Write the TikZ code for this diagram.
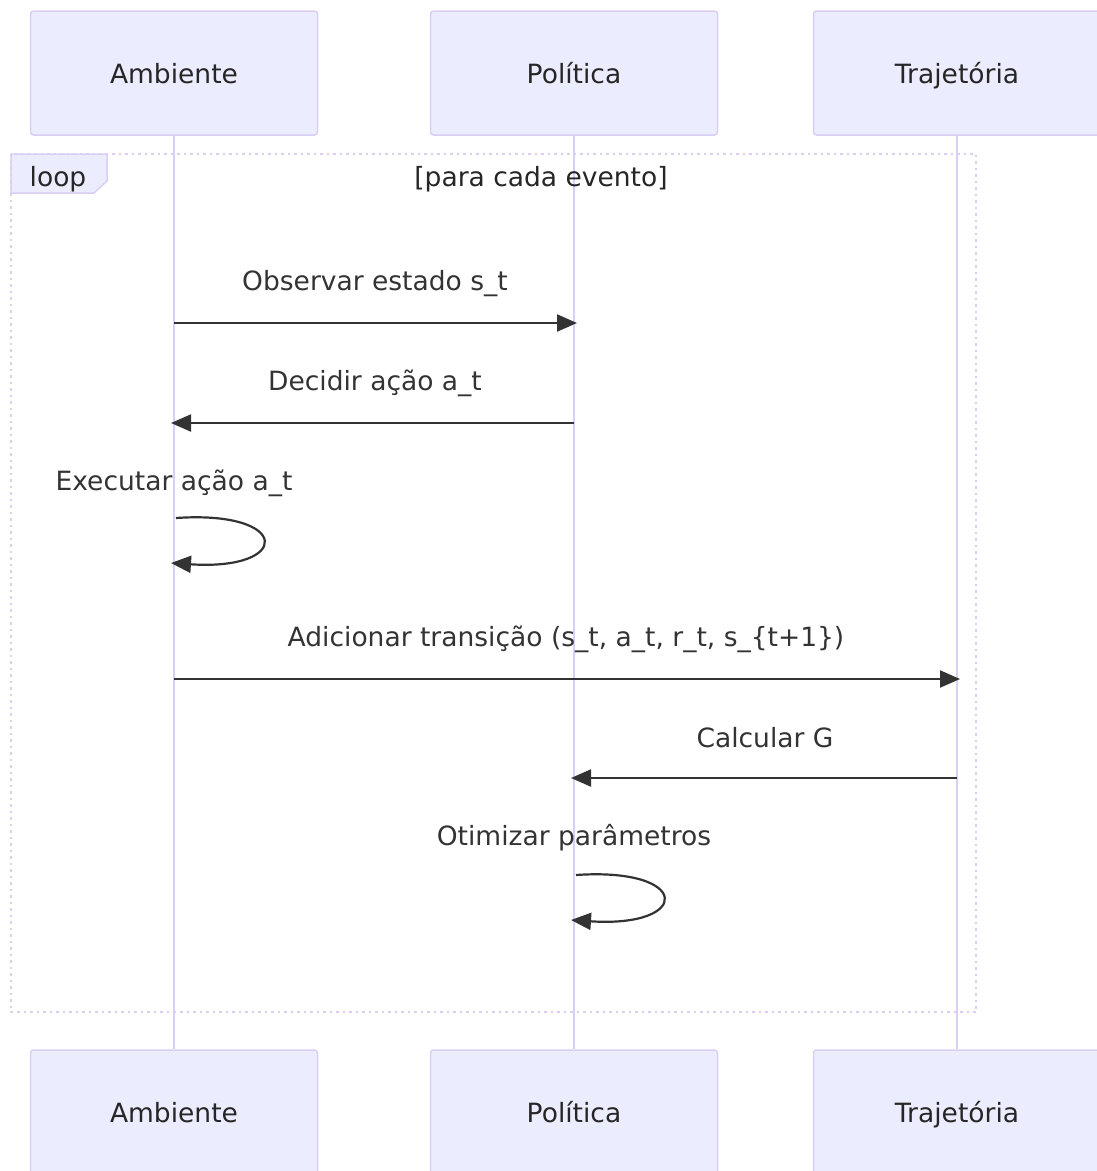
\documentclass[tikz,border=0pt]{standalone}
\usepackage{fontspec}
\setmainfont{DejaVu Sans}
\usetikzlibrary{arrows.meta}
\definecolor{actorfill}{HTML}{ECECFF}
\definecolor{actorline}{HTML}{DACEF3}
\definecolor{msgcol}{HTML}{333333}
\tikzset{
  actor/.style={draw=actorline, line width=1.5pt, fill=actorfill, rounded corners=3pt,
    minimum width=287pt, minimum height=124pt, inner sep=0pt,
    text height=20pt, text depth=0pt,
    font=\fontsize{26.5}{32}\selectfont, text=black!85},
  lifeline/.style={draw=actorline, line width=2.5pt},
  msglabel/.style={font=\fontsize{26.5}{32}\selectfont, text=msgcol, anchor=base, inner sep=0pt},
  msg/.style={draw=msgcol, line width=2.2pt, -{Triangle[length=20pt,width=17pt]}},
  loopframe/.style={draw=actorline, line width=2.5pt, dash pattern=on 2.5pt off 4pt},
}
\begin{document}
\begin{tikzpicture}[x=1pt,y=-1pt]
  \useasboundingbox (0,0) rectangle (1097,1171);
  \clip (0,0) rectangle (1097,1171);

  % actor heads and feet
  \node[actor] (ambT) at (174,73) {Ambiente};
  \node[actor] (polT) at (574,73) {Política};
  \node[actor] (traT) at (957,73) {Trajetória};
  \node[actor] (ambB) at (174,1112) {Ambiente};
  \node[actor] (polB) at (574,1112) {Política};
  \node[actor] (traB) at (957,1112) {Trajetória};

  % lifelines
  \draw[lifeline] (ambT.south) -- (ambB.north);
  \draw[lifeline] (polT.south) -- (polB.north);
  \draw[lifeline] (traT.south) -- (traB.north);

  % loop frame
  \draw[loopframe] (11,154) rectangle (976,1012);
  \filldraw[draw=actorline, fill=actorfill, line width=1.5pt]
    (11,154) -- (107,154) -- (107,181) -- (94,193) -- (11,193) -- cycle;
  \node[msglabel, text=black!85] (looplbl) at (58,186) {loop};
  \node[msglabel, text=black!85] (loopcond) at (541,186) {[para cada evento]};

  % anchor points on the lifelines
  \coordinate (a1) at (174,323);  \coordinate (p1) at (577,323);
  \coordinate (p2) at (574,423);  \coordinate (a2) at (171,423);
  \coordinate (a3) at (176,518);  \coordinate (a3e) at (171,563);
  \coordinate (a4) at (174,679);  \coordinate (t4) at (960,679);
  \coordinate (t5) at (957,778);  \coordinate (p5) at (571,778);
  \coordinate (p6) at (576,875);  \coordinate (p6e) at (571,920);

  % messages
  \node[msglabel] (m1) at (375,290) {Observar estado s\_t};
  \draw[msg] (a1) -- (p1);

  \node[msglabel] (m2) at (375,390) {Decidir ação a\_t};
  \draw[msg] (p2) -- (a2);

  \node[msglabel] (m3) at (174,490) {Executar ação a\_t};
  \draw[msg] (a3) .. controls (292,510) and (292,571) .. (a3e);

  \node[msglabel] (m4) at (566,646) {Adicionar transição (s\_t, a\_t, r\_t, s\_\{t+1\})};
  \draw[msg] (a4) -- (t4);

  \node[msglabel] (m5) at (765,747) {Calcular G};
  \draw[msg] (t5) -- (p5);

  \node[msglabel] (m6) at (574,845) {Otimizar parâmetros};
  \draw[msg] (p6) .. controls (692,867) and (692,928) .. (p6e);
\end{tikzpicture}
\end{document}
